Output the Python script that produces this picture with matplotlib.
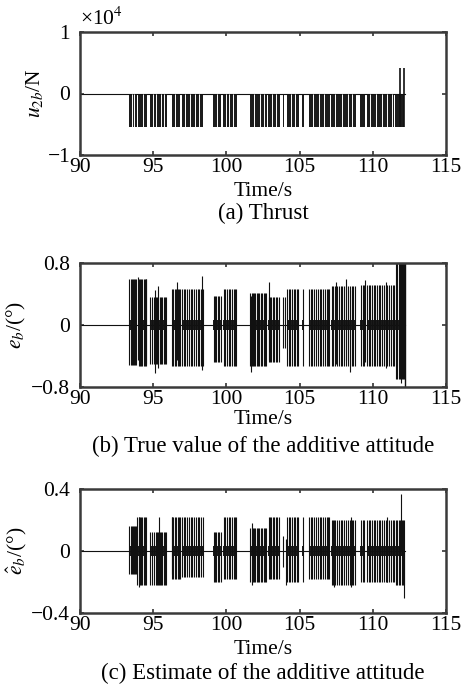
import numpy as np
import matplotlib
matplotlib.use("Agg")
import matplotlib.pyplot as plt

plt.rcParams["font.family"] = ["Liberation Serif", "DejaVu Serif"]
plt.rcParams["mathtext.fontset"] = "stix"
plt.rcParams["axes.unicode_minus"] = True

# switching episodes (s)
burst_start = [93.35, 93.98, 94.78, 96.26, 96.95, 99.11, 99.80, 101.61, 102.85, 103.85,
               104.12, 105.15, 105.62, 107.15, 109.15, 109.58, 111.55]
burst_end = [93.88, 94.56, 95.92, 96.85, 98.40, 99.62, 100.70, 102.75, 103.65, 103.95,
             104.95, 105.28, 107.05, 108.85, 109.45, 111.45, 112.15]

# oscillation spikes inside the episodes (s)
spike_t = [93.38, 93.45, 93.52, 93.60, 93.68, 93.76, 93.84,
           94.00, 94.08, 94.17, 94.26, 94.34, 94.43, 94.52,
           94.80, 94.95, 95.08, 95.18, 95.27, 95.36, 95.45, 95.55, 95.63, 95.72, 95.80, 95.90,
           96.28, 96.38, 96.47, 96.57, 96.66, 96.75, 96.83,
           96.98, 97.08, 97.20, 97.32, 97.45, 97.56, 97.68, 97.80, 97.92, 98.04, 98.16, 98.28, 98.38,
           99.13, 99.22, 99.31, 99.40, 99.50, 99.60,
           99.83, 99.93, 100.04, 100.15, 100.27, 100.38, 100.50, 100.60, 100.68,
           101.63, 101.72, 101.80, 101.88, 101.97, 102.06, 102.15, 102.25, 102.35, 102.45, 102.55, 102.65, 102.73,
           102.88, 102.98, 103.08, 103.18, 103.28, 103.38, 103.48, 103.58,
           103.90,
           104.15, 104.26, 104.37, 104.48, 104.59, 104.70, 104.81, 104.92,
           105.20,
           105.65, 105.76, 105.88, 106.00, 106.12, 106.24, 106.36, 106.48, 106.60, 106.72, 106.84, 106.96, 107.03,
           107.18, 107.30, 107.42, 107.55, 107.68, 107.80, 107.92, 108.05, 108.18, 108.30, 108.42, 108.55, 108.68, 108.80,
           109.18, 109.30, 109.42,
           109.62, 109.72, 109.82, 109.93, 110.05, 110.16, 110.28, 110.40, 110.52, 110.64, 110.76, 110.88, 111.00,
           111.12, 111.24, 111.36, 111.44,
           111.58, 111.68, 111.78, 111.88, 111.98, 112.08, 112.14]

# (a) thrust
thrust_on = -5500
thrust_gaps = [93.55, 93.72, 94.30, 95.00, 95.20, 95.50, 95.75, 96.50, 97.20, 97.50, 97.85, 98.10,
               99.35, 99.95, 100.20, 100.45, 101.90, 102.30, 102.60, 103.10, 103.40, 104.40, 104.70,
               105.90, 106.30, 106.70, 107.40, 107.90, 108.30, 108.60, 109.80, 110.20, 110.60, 111.00, 111.30]
thrust_peak_t = [111.88, 112.12]
thrust_peak = [4100, 4100]
t_end = 112.2

# (b) true additive attitude, per episode
b_hi = [0.59, 0.60, 0.36, 0.47, 0.47, 0.37, 0.47, 0.41, 0.36, 0.36, 0.47, 0.47, 0.47, 0.50, 0.52, 0.52, 0.80]
b_lo = [-0.52, -0.53, -0.50, -0.53, -0.53, -0.48, -0.53, -0.53, -0.48, -0.30, -0.53, -0.53, -0.53,
        -0.53, -0.53, -0.53, -0.70]
b_core = 0.07
b_out_t = [93.95, 94.50, 95.10, 95.30, 96.60, 98.36, 101.70, 102.90, 104.00, 107.50, 108.20,
           108.45, 109.50, 110.90, 111.95]
b_out_hi = [0.62, 0.60, 0.45, 0.50, 0.56, 0.63, 0.38, 0.55, 0.36, 0.56, 0.60, 0.45, 0.58, 0.56, 0.80]
b_out_lo = [-0.45, -0.50, -0.62, -0.55, -0.45, -0.58, -0.60, -0.45, -0.30, -0.50, -0.45, -0.60,
            -0.48, -0.55, -0.75]

# (c) estimated additive attitude, per episode
c_hi = [0.16, 0.22, 0.12, 0.22, 0.22, 0.12, 0.22, 0.15, 0.22, 0.10, 0.22, 0.22, 0.22, 0.20, 0.20, 0.20, 0.20]
c_lo = [-0.15, -0.22, -0.22, -0.18, -0.17, -0.20, -0.18, -0.20, -0.18, -0.10, -0.20, -0.20, -0.18,
        -0.22, -0.20, -0.20, -0.22]
c_core = 0.03
c_out_t = [93.90, 94.05, 95.40, 96.25, 101.75, 104.10, 107.35, 108.50, 110.95]
c_out_hi = [0.22, 0.22, 0.22, 0.22, 0.18, 0.08, 0.20, 0.22, 0.22]
c_out_lo = [-0.22, -0.23, -0.22, -0.15, -0.22, -0.22, -0.23, -0.23, -0.20]
c_peak_t = [111.90, 112.10]
c_peak = [0.37, -0.30]

INK = "#111111"
FS_TICK = 15.5
FS_LAB = 15.5
FS_CAP = 16.5

fig = plt.figure(figsize=(4.61, 6.87), dpi=100)
W, H = 461.0, 687.0


def make_axes(top, bottom):
    ax = fig.add_axes([80 / W, 1 - bottom / H, 366 / W, (bottom - top) / H])
    ax.set_xlim(90, 115)
    ax.set_xticks([90, 95, 100, 105, 110, 115])
    ax.tick_params(direction="in", top=True, right=True, length=3, width=1.2,
                   labelsize=FS_TICK, color="#333333")
    ax.tick_params(axis="x", pad=2)
    ax.tick_params(axis="y", pad=7)
    for s in ax.spines.values():
        s.set_linewidth(1.8)
        s.set_color("#3a3a3a")
    return ax


def captions(ylab_y, cap_y, cap):
    xc = (80 + 446) / 2 / W
    fig.text(xc, 1 - ylab_y / H, "Time/s", ha="center", va="center", fontsize=FS_LAB)
    fig.text(xc, 1 - cap_y / H, cap, ha="center", va="center", fontsize=FS_CAP)


idx = np.searchsorted(burst_start, spike_t, side="right") - 1

# ---- (a) ----
ax = make_axes(32, 155)
ax.set_ylim(-10000, 10000)
ax.set_yticks([-10000, 0, 10000])
ax.set_yticklabels(["\u22121", "0", "1"])
ax.plot([90, t_end], [0, 0], color=INK, lw=0.8)
for s0, s1 in zip(burst_start, burst_end):
    ax.fill_between([s0, s1], thrust_on, 0, color="#1c1c1c", lw=0)
ax.vlines(thrust_gaps, thrust_on, -150, color="white", lw=0.7)
ax.vlines(thrust_peak_t, thrust_on, thrust_peak, color=INK, lw=1.2)
ax.set_ylabel("$u_{2b}$/N", fontsize=FS_LAB, labelpad=2)
ax.text(0.0, 1.015, "\u00d710$^4$", transform=ax.transAxes, fontsize=FS_TICK, va="bottom", ha="left")
captions(192, 213, "(a) Thrust")

# ---- (b) ----
ax = make_axes(263, 387)
ax.set_ylim(-0.8, 0.8)
ax.set_yticks([-0.8, 0, 0.8])
ax.set_yticklabels(["\u22120.8", "0", "0.8"])
ax.plot([90, t_end], [0, 0], color=INK, lw=0.8)
for s0, s1 in zip(burst_start, burst_end):
    ax.fill_between([s0, s1], -b_core, b_core, color="#1c1c1c", lw=0)
ax.vlines(spike_t, np.array(b_lo)[idx], np.array(b_hi)[idx], color=INK, lw=0.8)
ax.vlines(b_out_t, b_out_lo, b_out_hi, color=INK, lw=0.8)
ax.vlines([t_end], -0.8, 0.8, color=INK, lw=1.0)
ax.set_ylabel("$e_b$/(\u00b0)", fontsize=FS_LAB, labelpad=2)
captions(420, 446, "(b) True value of the additive attitude")

# ---- (c) ----
ax = make_axes(489, 613)
ax.set_ylim(-0.4, 0.4)
ax.set_yticks([-0.4, 0, 0.4])
ax.set_yticklabels(["\u22120.4", "0", "0.4"])
ax.plot([90, t_end], [0, 0], color=INK, lw=0.8)
for s0, s1 in zip(burst_start, burst_end):
    ax.fill_between([s0, s1], -c_core, c_core, color="#1c1c1c", lw=0)
ax.vlines(spike_t, np.array(c_lo)[idx], np.array(c_hi)[idx], color=INK, lw=0.8)
ax.vlines(c_out_t, c_out_lo, c_out_hi, color=INK, lw=0.8)
ax.vlines(c_peak_t, [0, c_peak[1]], [c_peak[0], 0], color=INK, lw=0.8)
ax.set_ylabel("$\\hat{e}_b$/(\u00b0)", fontsize=FS_LAB, labelpad=2)
captions(649, 673, "(c) Estimate of the additive attitude")

fig.savefig("out.png", dpi=100)
